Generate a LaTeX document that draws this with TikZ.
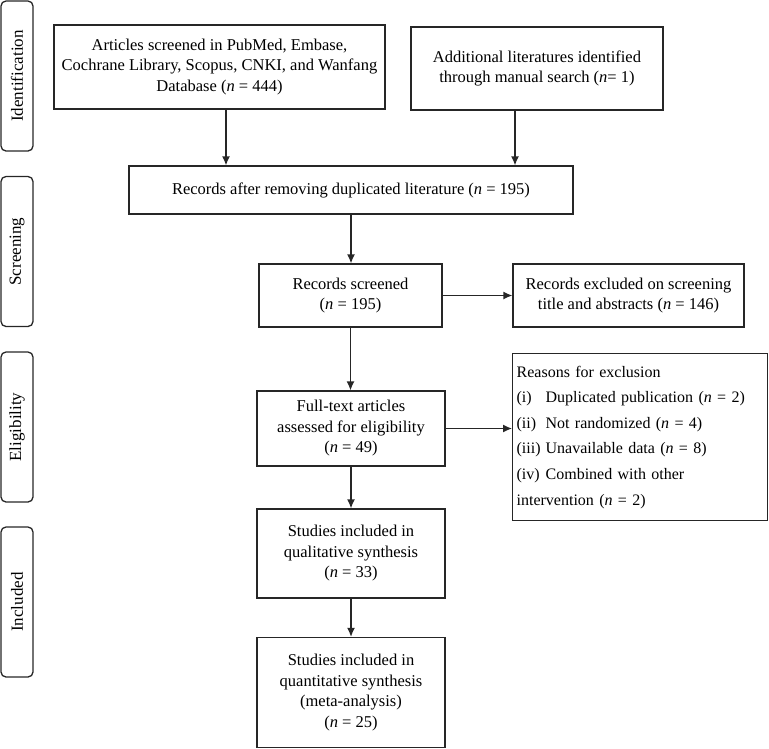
\documentclass[tikz,border=0pt]{standalone}
\usepackage{fontspec}
\setmainfont{Liberation Serif}
\usepackage{xcolor}
\newcommand{\nval}[1]{(\textit{n}~=~#1)}
\newcommand{\rlab}[1]{\makebox[29pt][l]{#1}}
\usepackage{tikz}
\usetikzlibrary{arrows.meta}
\usetikzlibrary{calc}
\usetikzlibrary{positioning}

\begin{document}
\begin{tikzpicture}[x=1pt, y=-1pt,
    box/.style={draw=black!85, line width=1.3pt, align=center, inner sep=2pt,
      font=\fontsize{16.5}{20.5}\selectfont},
    stage/.style={draw=black!85, line width=1.3pt, rounded corners=5pt, rotate=90,
      minimum width=150pt, minimum height=32pt, inner sep=0pt,
      font=\fontsize{17}{18}\selectfont},
    flow/.style={-{Latex[length=9pt,width=8pt]}, line width=1.3pt, black!85}]

      \useasboundingbox (0,0) rectangle (769,748);

      % stages on the left
      \node [stage] (ident) at (17,76) {Identification};
      \node [stage] (screen) at (17,251.5) {Screening};
      \node [stage] (elig) at (17,427) {Eligibility};
      \node [stage] (incl) at (17,602) {Included};

      % flow boxes
      \node [box, minimum width=331pt, minimum height=84pt] (search) at (219.5,67)
      {Articles screened in PubMed, Embase,\\
       Cochrane Library, Scopus, CNKI, and Wanfang\\
       Database \nval{444}};

      \node [box, minimum width=252pt, minimum height=83pt] (manual) at (537,68.5)
      {Additional literatures identified\\
       through manual search (\textit{n}=~1)};

      \node [box, minimum width=444pt, minimum height=48pt] (dedup) at (351,190)
      {Records after removing duplicated literature \nval{195}};

      \node [box, minimum width=183pt, minimum height=63pt] (screened) at (350.5,295.5)
      {Records screened\\ \nval{195}};

      \node [box, minimum width=231pt, minimum height=63pt] (excl) at (628.5,295.5)
      {Records excluded on screening\\ title and abstracts \nval{146}};

      \node [box, minimum width=188pt, minimum height=75pt] (fulltext) at (351,428.5)
      {Full-text articles\\ assessed for eligibility\\ \nval{49}};

      \node [box, align=left, anchor=north west, minimum width=255pt,
        minimum height=167pt, text width=247pt, inner sep=4pt,
        font=\fontsize{16}{25.6}\selectfont] (reasons) at (512,353)
      {Reasons for exclusion\\
       \rlab{(i)}Duplicated publication \nval{2}\\
       \rlab{(ii)}Not randomized \nval{4}\\
       \rlab{(iii)}Unavailable data \nval{8}\\
       \rlab{(iv)}Combined with other\\
       intervention \nval{2}};

      \node [box, minimum width=188pt, minimum height=89pt] (quali) at (351,553.5)
      {Studies included in\\ qualitative synthesis\\ \nval{33}};

      \node [box, minimum width=188pt, minimum height=110pt] (quanti) at (351,692.5)
      {Studies included in\\ quantitative synthesis\\ (meta-analysis)\\ \nval{25}};

      % connectors
      \draw [flow] ([xshift=6.5pt]search.south) -- ([xshift=6.5pt]search.south |- dedup.north);
      \draw [flow] ([xshift=-22pt]manual.south) -- ([xshift=-22pt]manual.south |- dedup.north);
      \draw [flow] (dedup.south) -- (dedup.south |- screened.north);
      \draw [flow] (screened.east) -- (excl.west);
      \draw [flow] (screened.south) -- (screened.south |- fulltext.north);
      \draw [flow] (fulltext.east) -- (fulltext.east -| reasons.west);
      \draw [flow] (fulltext.south) -- (quali.north);
      \draw [flow] (quali.south) -- (quanti.north);

    \end{tikzpicture}
\end{document}
